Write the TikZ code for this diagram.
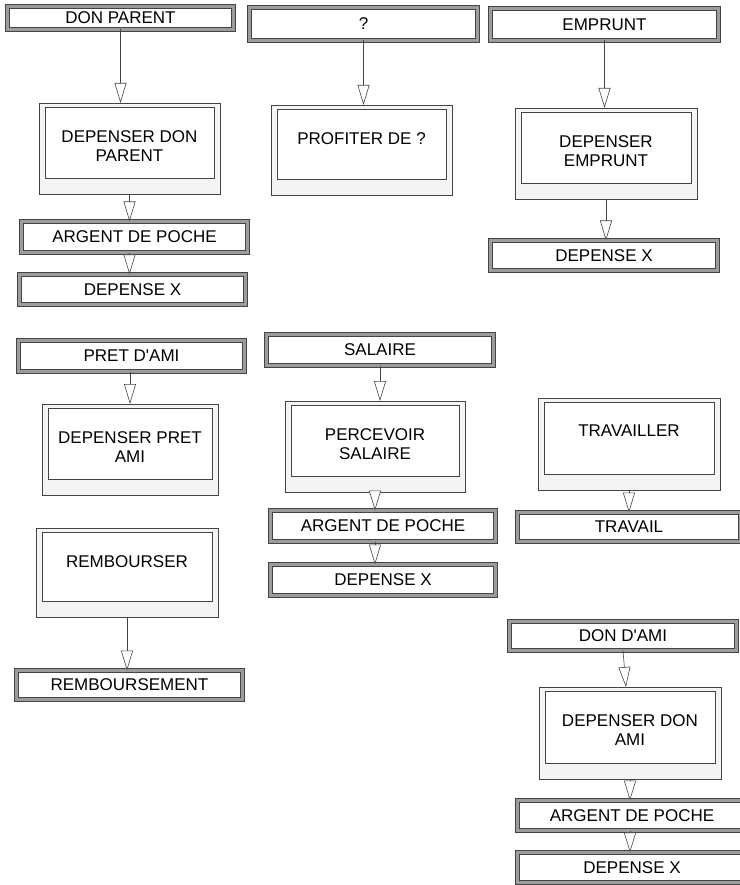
\documentclass[tikz,border=0pt]{standalone}
\usepackage{fontspec}
\setmainfont{Liberation Sans}
\usetikzlibrary{arrows.meta,positioning,calc}
\definecolor{BoxLine}{HTML}{444444}
\definecolor{BandGray}{HTML}{9C9C9C}
\definecolor{ProcFill}{HTML}{F4F4F4}

\begin{document}
\begin{tikzpicture}[x=1pt,y=-1pt,
flux/.style={draw=BoxLine,double=BandGray,double distance=3pt,line width=0.6pt,fill=white,anchor=north west,inner sep=0pt,outer sep=0pt,font=\fontsize{17}{19}\selectfont},
proc/.style={draw=BoxLine,line width=0.6pt,fill=ProcFill,anchor=north west,inner sep=0pt,outer sep=0pt},
procin/.style={draw=BoxLine,line width=0.6pt,fill=white,inner sep=0pt,outer sep=0pt},
lbl/.style={inner sep=0pt,align=center,font=\fontsize{17}{19}\selectfont},
fl/.style={-{Triangle[length=20pt,width=12pt,fill=white]},draw=BoxLine,line width=0.6pt}
]
\useasboundingbox (0,0) rectangle (739,885);

% flux
\node[flux,minimum width=226pt,minimum height=23pt] (donparent) at (7.5,6.5) {DON PARENT};
\node[flux,minimum width=226pt,minimum height=31pt] (argent1) at (21.5,221.5) {ARGENT DE POCHE};
\node[flux,minimum width=226pt,minimum height=30pt] (depx1) at (19.5,274.5) {DEPENSE X};
\node[flux,minimum width=228pt,minimum height=33pt] (inconnu) at (249.5,7.5) {?};
\node[flux,minimum width=228pt,minimum height=32pt] (emprunt) at (490.5,8.5) {EMPRUNT};
\node[flux,minimum width=227pt,minimum height=30pt] (depx2) at (490.5,240.5) {DEPENSE X};
\node[flux,minimum width=226pt,minimum height=31pt] (pretami) at (18.5,340.5) {PRET D\textquotesingle AMI};
\node[flux,minimum width=226pt,minimum height=29pt] (rembt) at (16.5,670.5) {REMBOURSEMENT};
\node[flux,minimum width=227pt,minimum height=31pt] (salaire) at (266.5,334.5) {SALAIRE};
\node[flux,minimum width=225pt,minimum height=31pt] (argent2) at (270.5,510.5) {ARGENT DE POCHE};
\node[flux,minimum width=225pt,minimum height=31pt] (depx3) at (270.5,564.5) {DEPENSE X};
\node[flux,minimum width=223pt,minimum height=29pt] (travail) at (517.5,512.5) {TRAVAIL};
\node[flux,minimum width=227pt,minimum height=29pt] (donami) at (509.5,621.5) {DON D\textquotesingle AMI};
\node[flux,minimum width=229pt,minimum height=30pt] (argent3) at (517.5,800.5) {ARGENT DE POCHE};
\node[flux,minimum width=229pt,minimum height=30pt] (depx4) at (517.5,852.5) {DEPENSE X};

% processus
\node[proc,minimum width=181pt,minimum height=91pt] (depdonparent) at (39,103) {};
\node[procin,minimum width=169pt,minimum height=71pt,below=4pt of depdonparent.north] (depdonparent-in) {};
\node[lbl,below=23pt of depdonparent-in.north] (depdonparent-t) {DEPENSER DON\\PARENT};

\node[proc,minimum width=181pt,minimum height=90pt] (profiter) at (271,105) {};
\node[procin,minimum width=169pt,minimum height=70pt,below=4pt of profiter.north] (profiter-in) {};
\node[lbl,below=23pt of profiter-in.north] (profiter-t) {PROFITER DE ?};

\node[proc,minimum width=182pt,minimum height=91pt] (depemprunt) at (515,108) {};
\node[procin,minimum width=170pt,minimum height=71pt,below=4pt of depemprunt.north] (depemprunt-in) {};
\node[lbl,below=23pt of depemprunt-in.north] (depemprunt-t) {DEPENSER\\EMPRUNT};

\node[proc,minimum width=176pt,minimum height=91pt] (deppretami) at (42,404) {};
\node[procin,minimum width=164pt,minimum height=71pt,below=4pt of deppretami.north] (deppretami-in) {};
\node[lbl,below=23pt of deppretami-in.north] (deppretami-t) {DEPENSER PRET\\AMI};

\node[proc,minimum width=182pt,minimum height=89pt] (rembourser) at (36,528) {};
\node[procin,minimum width=170pt,minimum height=69pt,below=4pt of rembourser.north] (rembourser-in) {};
\node[lbl,below=23pt of rembourser-in.north] (rembourser-t) {REMBOURSER};

\node[proc,minimum width=180pt,minimum height=91pt] (percevoir) at (285,401) {};
\node[procin,minimum width=168pt,minimum height=71pt,below=4pt of percevoir.north] (percevoir-in) {};
\node[lbl,below=23pt of percevoir-in.north] (percevoir-t) {PERCEVOIR\\SALAIRE};

\node[proc,minimum width=182pt,minimum height=92pt] (travailler) at (538,398) {};
\node[procin,minimum width=170pt,minimum height=72pt,below=4pt of travailler.north] (travailler-in) {};
\node[lbl,below=23pt of travailler-in.north] (travailler-t) {TRAVAILLER};

\node[proc,minimum width=182pt,minimum height=92pt] (depdonami) at (539,687) {};
\node[procin,minimum width=170pt,minimum height=72pt,below=4pt of depdonami.north] (depdonami-in) {};
\node[lbl,below=23pt of depdonami-in.north] (depdonami-t) {DEPENSER DON\\AMI};

% fleches
\draw[fl] (donparent.south) -- (donparent.south |- depdonparent.north);
\draw[fl] (depdonparent.south) -- (depdonparent.south |- argent1.north);
\draw[fl] (argent1.south -| depdonparent.south) -- (depdonparent.south |- depx1.north);
\draw[fl] (inconnu.south) -- (inconnu.south |- profiter.north);
\draw[fl] (emprunt.south) -- (emprunt.south |- depemprunt.north);
\draw[fl] (depemprunt.south) -- (depemprunt.south |- depx2.north);
\draw[fl] (pretami.south -| deppretami.north) -- (deppretami.north);
\draw[fl] (rembourser.south) -- (rembourser.south |- rembt.north);
\draw[fl] (salaire.south) -- (salaire.south |- percevoir.north);
\draw[fl] (percevoir.south) -- (percevoir.south |- argent2.north);
\draw[fl] (argent2.south -| percevoir.south) -- (percevoir.south |- depx3.north);
\draw[fl] (travailler.south) -- (travailler.south |- travail.north);
\draw[fl] (donami.south) -- ([xshift=-4pt]depdonami.north);
\draw[fl] (depdonami.south) -- (depdonami.south |- argent3.north);
\draw[fl] (argent3.south -| depdonami.south) -- (depdonami.south |- depx4.north);
\end{tikzpicture}
\end{document}
